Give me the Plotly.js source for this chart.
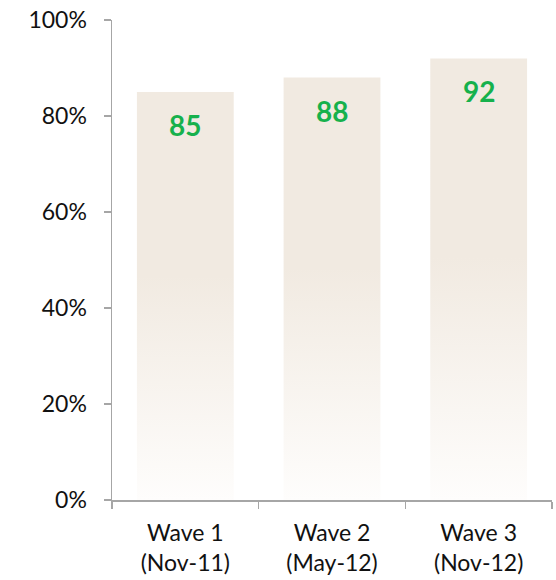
<!DOCTYPE html>
<html>
<head>
<meta charset="utf-8">
<script src="https://cdn.plot.ly/plotly-3.0.1.min.js"></script>
<style>
  html, body { margin: 0; padding: 0; background: #ffffff; }
  #chart { width: 556px; height: 580px; }
</style>
</head>
<body>
<div id="chart"></div>
<script>
// Survey waves and the share reported in each
const waves = ['Wave 1<br>(Nov-11)', 'Wave 2<br>(May-12)', 'Wave 3<br>(Nov-12)'];
const shares = [85, 88, 92];
const yTicks = [0, 0.2, 0.4, 0.6, 0.8, 1.0];

const axisGray = '#a6a6a6';
const labelGreen = '#16b14c';
const font = 'Lato, "Open Sans", sans-serif';

const bars = {
  type: 'bar',
  x: waves,
  y: shares.map(v => v / 100),
  marker: { color: '#f1eae1', line: { width: 0 } },
  hoverinfo: 'none'
};

// Value labels sit a little below each bar top
const valueLabels = shares.map((v, i) => ({
  x: waves[i],
  y: v / 100,
  xref: 'x',
  yref: 'y',
  text: '<b>' + v + '</b>',
  showarrow: false,
  yanchor: 'middle',
  yshift: -33,
  font: { family: font, size: 28, color: labelGreen }
}));

const layout = {
  width: 556,
  height: 580,
  margin: { l: 112, r: 4, t: 20, b: 80 },
  paper_bgcolor: '#ffffff',
  plot_bgcolor: '#ffffff',
  showlegend: false,
  bargap: 0.34,
  font: { family: font, size: 23, color: '#111111' },
  xaxis: {
    type: 'category',
    showline: true,
    linecolor: axisGray,
    linewidth: 1.5,
    ticks: 'outside',
    tickson: 'boundaries',
    ticklen: 7,
    tickwidth: 1.5,
    tickcolor: axisGray,
    showgrid: false,
    zeroline: false,
    ticklabelstandoff: 12,
    tickfont: { family: font, size: 23, color: '#111111' }
  },
  yaxis: {
    range: [0, 1],
    tickvals: yTicks,
    tickformat: '.0%',
    showline: true,
    linecolor: axisGray,
    linewidth: 1.5,
    ticks: 'outside',
    ticklen: 7,
    tickwidth: 1.5,
    tickcolor: axisGray,
    showgrid: false,
    zeroline: false,
    ticklabelstandoff: 12,
    tickfont: { family: font, size: 23, color: '#111111' }
  },
  annotations: valueLabels
};

Plotly.newPlot('chart', [bars], layout, { staticPlot: true, displayModeBar: false }).then(gd => {
  // Fade each bar from beige at the top to near white at the base
  const svg = gd.querySelector('svg.main-svg');
  const ns = 'http://www.w3.org/2000/svg';
  let defs = svg.querySelector('defs');
  if (!defs) { defs = document.createElementNS(ns, 'defs'); svg.insertBefore(defs, svg.firstChild); }
  const grad = document.createElementNS(ns, 'linearGradient');
  grad.setAttribute('id', 'barFade');
  grad.setAttribute('x1', '0'); grad.setAttribute('y1', '0');
  grad.setAttribute('x2', '0'); grad.setAttribute('y2', '1');
  [['0', '#f1eae1'], ['0.45', '#f1eae1'], ['1', '#fefdfc']].forEach(([o, c]) => {
    const s = document.createElementNS(ns, 'stop');
    s.setAttribute('offset', o);
    s.setAttribute('stop-color', c);
    grad.appendChild(s);
  });
  defs.appendChild(grad);
  gd.querySelectorAll('.bars .point path').forEach(p => { p.style.fill = 'url(#barFade)'; });
});
</script>
</body>
</html>
